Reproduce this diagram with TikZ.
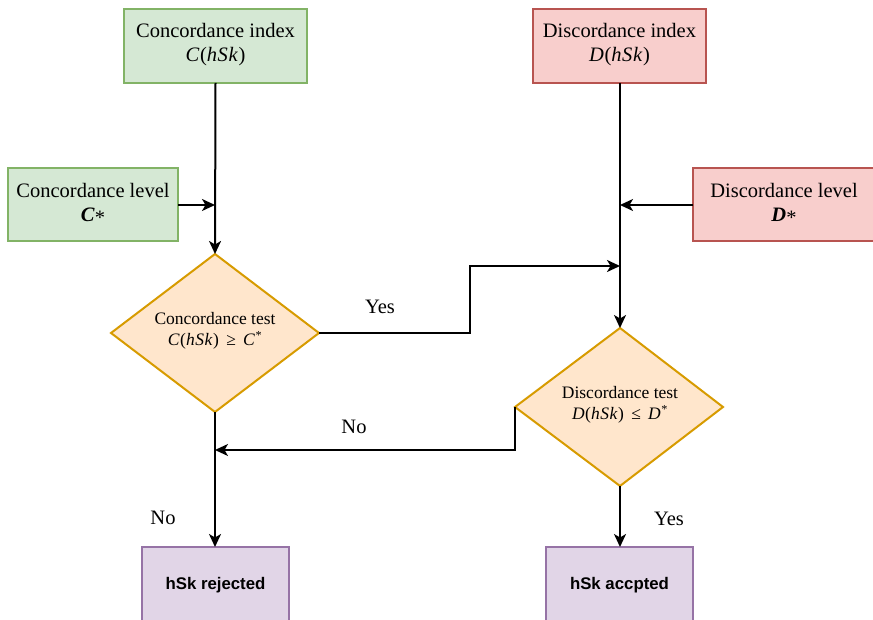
\documentclass[tikz,border=0pt]{standalone}
\usepackage{fontspec}
\setmainfont{Liberation Serif}
\setsansfont{Liberation Sans}
\usetikzlibrary{shapes.geometric,arrows.meta,positioning}
\definecolor{gfill}{HTML}{D5E8D4}\definecolor{gdraw}{HTML}{82B366}
\definecolor{rfill}{HTML}{F8CECC}\definecolor{rdraw}{HTML}{B85450}
\definecolor{ofill}{HTML}{FFE6CC}\definecolor{odraw}{HTML}{D79B00}
\definecolor{pfill}{HTML}{E1D5E7}\definecolor{pdraw}{HTML}{9673A6}
\tikzset{
  box/.style={draw, line width=2pt},
  gbox/.style={box, fill=gfill, draw=gdraw},
  rbox/.style={box, fill=rfill, draw=rdraw},
  pbox/.style={box, fill=pfill, draw=pdraw},
  dia/.style={draw=odraw, fill=ofill, line width=2pt, line join=miter},
  btext/.style={align=center, font=\fontsize{20.5}{24}\selectfont},
  dtext/.style={align=center, font=\fontsize{17.5}{21}\selectfont},
  ptext/.style={font=\sffamily\bfseries\fontsize{16.8}{20}\selectfont},
  conn/.style={line width=2pt, -{Stealth[length=13pt,width=12pt,inset=3.5pt]}},
  lbl/.style={font=\fontsize{20.5}{24}\selectfont}
}
% italic variable names, slightly spaced like math
\newcommand{\mi}[1]{\textit{\addfontfeature{LetterSpace=3}#1}}
\begin{document}
\begin{tikzpicture}[x=1pt,y=-1pt]
\useasboundingbox (0,0) rectangle (873,620);
\clip (0,0) rectangle (873,620);
% input boxes
\draw[gbox] (124,9) rectangle (307,83);
\node[btext] (ci) at (215.5,45) {Concordance index\\\mi{C}(\mi{hSk})};
\coordinate (cib) at (215.5,83);
\draw[rbox] (533,9) rectangle (706,83);
\node[btext] (di) at (619.5,45) {Discordance index\\\mi{D}(\mi{hSk})};
\coordinate (dib) at (620,83);
\draw[gbox] (8,168) rectangle (178,241);
\node[btext] (cl) at (93,204) {Concordance level\\\textit{\textbf{C}}\raisebox{-0.35ex}{*}};
\coordinate (clr) at (178,205);
\draw[rbox] (693,168) rectangle (880,241);
\node[btext] (dl) at (784,204) {Discordance level\\\textit{\textbf{D}}\raisebox{-0.35ex}{*}};
\coordinate (dll) at (693,205);
% decision diamonds
\draw[dia] (215,254) -- (319,333) -- (215,412) -- (111,333) -- cycle;
\node[dtext] (ct) at (215,331) {Concordance test\\\mi{C}(\mi{hSk}) \,≥\, \mi{C}\textsuperscript{*}};
\coordinate (ctt) at (215,254); \coordinate (ctr) at (319,333); \coordinate (ctb) at (215,412);
\draw[dia] (620,328) -- (723,407) -- (620,486) -- (515,407) -- cycle;
\node[dtext] (dt) at (620,405) {Discordance test\\\mi{D}(\mi{hSk}) \,≤\, \mi{D}\textsuperscript{*}};
\coordinate (dtt) at (620,328); \coordinate (dtl) at (515,407); \coordinate (dtb) at (620,486);
% outcomes
\draw[pbox] (142,547) rectangle (289,623);
\node[ptext] (rej) at (215.5,585) {hSk rejected};
\coordinate (rejt) at (215,547);
\draw[pbox] (546,547) rectangle (693,623);
\node[ptext] (acc) at (619.5,585) {hSk accpted};
\coordinate (acct) at (620,547);
% junctions on the vertical lines
\coordinate (cj) at (215,205);
\coordinate (dj) at (620,205);
\coordinate (yj) at (620,266);
\coordinate (nj) at (215,450);
% connectors
\draw[conn] (cib) -- (ctt);
\draw[conn] (clr) -- (cj);
\draw[conn] (dib) -- (dtt);
\draw[conn] (dll) -- (dj);
\draw[conn] (ctr) -- (470,333) -- (470,266) -- (yj);
\draw[conn] (dtl) -- (515,450) -- (nj);
\draw[conn] (ctb) -- (rejt);
\draw[conn] (dtb) -- (acct);
% branch labels
\node[lbl] (yes1) at (380,307) {Yes};
\node[lbl] (no1) at (354,427) {No};
\node[lbl] (no2) at (163,518) {No};
\node[lbl] (yes2) at (669,519) {Yes};
\end{tikzpicture}
\end{document}
